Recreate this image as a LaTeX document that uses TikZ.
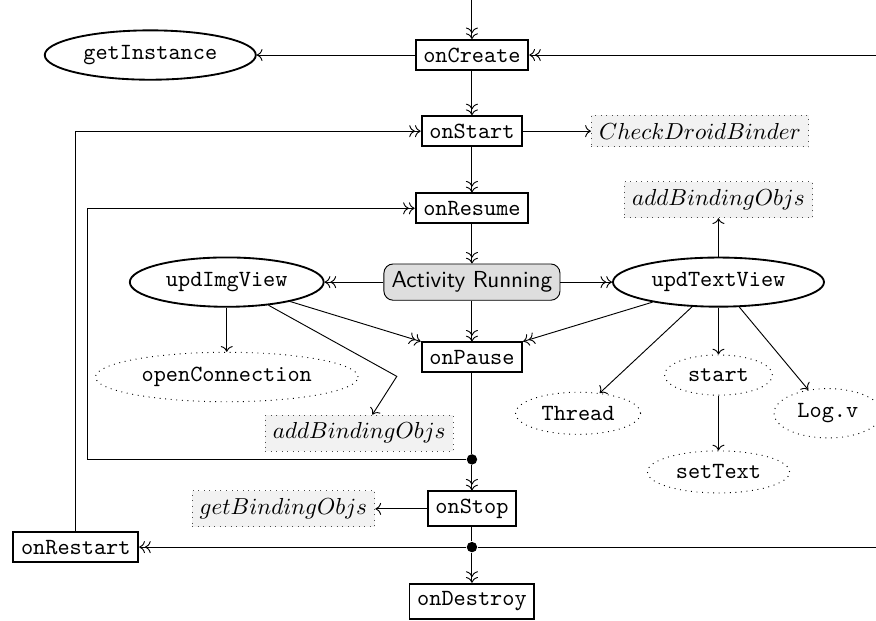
\documentclass[tikz,border=0pt]{standalone}
\usepackage{tikz}
\usetikzlibrary{arrows.meta,positioning,shapes.geometric}

\begin{document}
\begin{tikzpicture}
	[font=\normalsize,
		% STYLES
		% The callback style is used for the lifecycle methods
		callback/.style={rectangle, draw, thick, font=\ttfamily},
		% The method style is used for the methods called from a callback
		method/.style={ellipse, draw, thick, font=\ttfamily},
		submethod/.style={ellipse, draw, dotted, font=\ttfamily},
		% The binder style is used for the binding calls
		binder/.style={rectangle, draw=black!70, dotted, fill=black!5},
		running/.style={rectangle, rounded corners, draw, fill=black!13,
				font=\sffamily},
		junction/.style={circle, fill=black, inner sep=0pt, minimum size=4.5pt}]

	\useasboundingbox (0,0) rectangle (13.29,-9.42);

	% Draw lifecycle
	\node [callback] (oncreate) at (7.16,-0.835) {onCreate};
	\node [callback] (onstart) at (7.16,-1.99) {onStart};
	\node [callback] (onresume) at (7.16,-3.16) {onResume};
	\node [running] (running) at (7.16,-4.28) {Activity Running};
	\node [callback] (onpause) at (7.16,-5.42) {onPause};
	\node [junction] (dotpause) at (7.16,-6.97) {};
	\node [callback] (onstop) at (7.16,-7.72) {onStop};
	\node [junction] (dotstop) at (7.16,-8.30) {};
	\node [callback] (ondestroy) at (7.16,-9.12) {onDestroy};
	\node [callback] (onrestart) at (1.15,-8.30) {onRestart};

	% Draw methods
	\node [method] (getinst) at (2.28,-0.835) {getInstance};
	\node [method] (updimg) at (3.44,-4.28) {updImgView};
	\node [method] (updtext) at (10.9,-4.28) {updTextView};
	\node [submethod] (openconn) at (3.44,-5.72) {openConnection};
	\node [submethod] (thread) at (8.77,-6.27) {Thread};
	\node [submethod] (start) at (10.9,-5.69) {start};
	\node [submethod] (logv) at (12.56,-6.27) {Log.v};
	\node [submethod] (settext) at (10.9,-7.16) {setText};

	% Draw binder calls
	\node [binder] (checkbinder) at (10.62,-1.99) {$CheckDroidBinder$};
	\node [binder] (addbindtop) at (10.9,-3.03) {$addBindingObjs$};
	\node [binder] (addbindlow) at (5.45,-6.57) {$addBindingObjs$};
	\node [binder] (getbind) at (4.3,-7.72) {$getBindingObjs$};

	\coordinate (topin) at (7.16,0);
	\coordinate (rightin) at (13.29,-0.835);
	\coordinate (rightout) at (13.29,-8.30);
	\coordinate (loopin) at (1.32,-6.97);
	\coordinate (bend) at (6.02,-5.71);

	\path[->>]
	(topin) edge (oncreate)
	(rightin) edge (oncreate)
	(oncreate) edge (onstart)
	(onstart) edge (onresume)
	(onresume) edge (running)
	(running) edge (onpause)
	(running) edge (updimg)
	(running) edge (updtext)
	(updimg) edge (onpause.north west)
	(updtext) edge (onpause.north east)
	(dotpause) edge (onstop)
	(dotstop) edge (ondestroy)
	(dotstop) edge (onrestart);

	\path[->]
	(oncreate) edge (getinst)
	(onstart) edge (checkbinder)
	(updtext) edge (addbindtop)
	(updtext) edge (thread)
	(updtext) edge (start)
	(updtext) edge (logv)
	(start) edge (settext)
	(updimg) edge (openconn)
	(onstop) edge (getbind);

	\draw (onpause) -- (dotpause);
	\draw (onstop) -- (dotstop);
	\draw (dotstop) -- (rightout);
	\draw[->>] (dotpause) -- (loopin) |- (onresume);
	\draw[->>] (onrestart) |- (onstart);
	\draw[->] (updimg) -- (bend) -- ([xshift=0.2cm]addbindlow.north);
\end{tikzpicture}
\end{document}
